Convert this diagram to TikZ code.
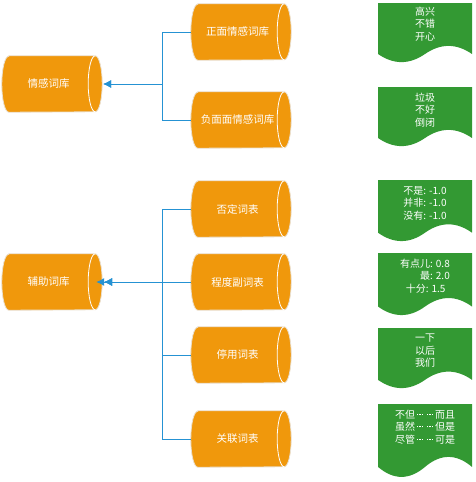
\documentclass[tikz,border=0pt]{standalone}
\usepackage{fontspec}
\setmainfont{Noto Sans CJK SC}
\usetikzlibrary{arrows.meta,calc,backgrounds}
\definecolor{cylor}{HTML}{F0980C}
\definecolor{cylborder}{HTML}{E9DFCF}
\definecolor{docgreen}{HTML}{339933}
\definecolor{linkblue}{HTML}{2592D3}
\newcommand\mydot{\raisebox{3.3pt}{\rule{1.1pt}{1.1pt}}}
\newcommand\mdots{\makebox[20pt][s]{\hfil\mydot\hfil\mydot\hfil\mydot\hfil\hfil\mydot\hfil\mydot\hfil\mydot\hfil}}
\newcommand\cylshape[1]{%
  \fill[cylor, draw=cylborder, line width=0.8pt] ([xshift=7pt]#1.north west) -- (#1.north east)
    arc[start angle=90, end angle=-90, x radius=7pt, y radius=28pt]
    -- ([xshift=7pt]#1.south west)
    arc[start angle=270, end angle=90, x radius=7pt, y radius=28pt] -- cycle;
  \draw[white, line width=0.8pt] (#1.north east) arc[start angle=90, end angle=270, x radius=7pt, y radius=28pt];}
\newcommand\mydoc[2]{%
  \fill[docgreen] (378,#1) -- (472,#1) -- (472,{#1+0.85*#2})
    .. controls ({472-94/6},{#1+0.67*#2}) and ({378+94*2/3},{#1+0.67*#2}) .. (425,{#1+0.85*#2})
    .. controls ({378+94/3},{#1+1.03*#2}) and ({378+94/6},{#1+1.03*#2}) .. (378,{#1+0.85*#2}) -- cycle;}
\begin{document}
\begin{tikzpicture}[x=1pt,y=-1pt,
  cyl/.style={minimum width=93pt, minimum height=56pt, inner sep=0pt, text=white, font=\fontsize{10.5}{12}\selectfont},
  doctext/.style={text=white, align=center, font=\fontsize{10}{12.5}\selectfont, inner sep=0pt},
  conn/.style={draw=linkblue, line width=1pt},
  arr/.style={conn, -{Latex[length=8pt,width=8pt]}}]
\useasboundingbox (0,0) rectangle (476,482);
% cylinders
\node[cyl] (qg) at (48.5,84) {情感词库};
\node[cyl] (fz) at (48.5,282) {辅助词库};
\node[cyl] (zm) at (237.5,32) {正面情感词库};
\node[cyl] (fm) at (237.5,120) {负面面情感词库};
\node[cyl] (fd) at (237.5,209) {否定词表};
\node[cyl] (cd) at (237.5,282) {程度副词表};
\node[cyl] (ty) at (237.5,355) {停用词表};
\node[cyl] (gl) at (237.5,439) {关联词表};
% document texts
\node[doctext] (d1) at (425,24) {高兴\\不错\\开心};
\node[doctext] (d2) at (425,110) {垃圾\\不好\\倒闭};
\node[doctext] (d3) at (425,203) {不是: -1.0\\并非: -1.0\\没有: -1.0};
\node[doctext, align=right] (d4) at (425,276) {有点儿: 0.8\\最: 2.0\\十分: 1.5\hspace*{4.4pt}};
\node[doctext] (d5) at (425,351) {一下\\以后\\我们};
\node[doctext] (d6) at (425,427) {不但\mdots 而且\\虽然\mdots 但是\\尽管\mdots 可是};
\begin{scope}[on background layer]
  \foreach \n in {qg,fz,zm,fm,fd,cd,ty,gl} {\cylshape{\n}}
  \mydoc{3}{60}
  \mydoc{87}{60}
  \mydoc{180}{62}
  \mydoc{253}{63}
  \mydoc{328}{61}
  \mydoc{404}{74}
\end{scope}
% connectors
\coordinate (j1) at (162,84);
\coordinate (j2) at (162,282);
\draw[arr] (zm.west) -| (j1) -- ([xshift=8pt]qg.east);
\draw[arr] (fm.west) -| (j1) -- ([xshift=8pt]qg.east);
\draw[arr] (fd.west) -| (j2) -- ([xshift=9pt]fz.east);
\draw[arr] (ty.west) -| (j2) -- ([xshift=9pt]fz.east);
\draw[arr] (gl.west) -| (j2) -- ([xshift=9pt]fz.east);
\draw[arr] (cd.west) -- ([xshift=1pt]fz.east);
\end{tikzpicture}
\end{document}
